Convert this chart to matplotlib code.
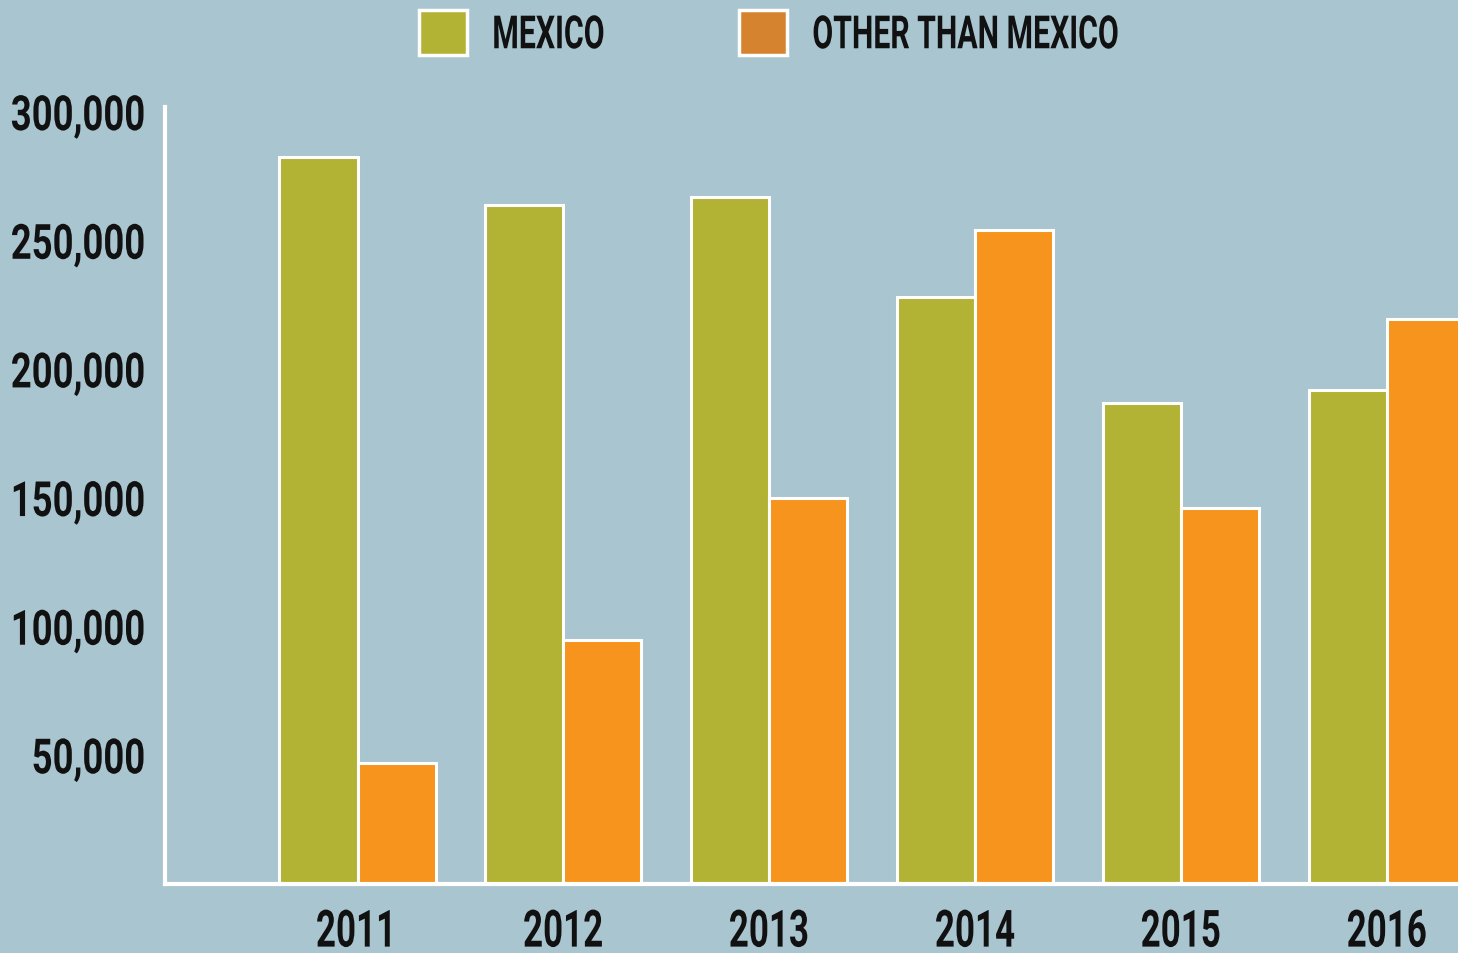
import matplotlib
matplotlib.use("Agg")
import matplotlib.pyplot as plt
from matplotlib.patches import Patch
from matplotlib import patheffects
from matplotlib.transforms import Affine2D
import numpy as np

### Data
years = ["2011", "2012", "2013", "2014", "2015", "2016"]
mexico = [282500, 264000, 267000, 228000, 187000, 192000]
other = [47000, 95000, 150000, 254000, 146000, 219500]
yticks = [50000, 100000, 150000, 200000, 250000, 300000]
series_labels = ["MEXICO", "OTHER THAN MEXICO"]

### Colours
bg = "#a9c5d0"
green = "#b2b235"
orange = "#f7941d"
orange_legend = "#d6832f"
ink = "#111111"

plt.rcParams["font.family"] = ["Roboto", "DejaVu Sans"]
plt.rcParams["font.weight"] = "bold"


# no condensed font installed -> squeeze glyphs horizontally
class Squeeze(patheffects.AbstractPathEffect):
    def __init__(self, sx=0.7, anchor="center"):
        super().__init__()
        self.sx = sx
        self.anchor = anchor

    def draw_path(self, renderer, gc, tpath, affine, rgbFace=None):
        v = tpath.vertices
        if len(v) == 0:
            return
        lo, hi = v[:, 0].min(), v[:, 0].max()
        x0 = {"left": lo, "center": (lo + hi) / 2, "right": hi}[self.anchor]
        t = Affine2D().translate(-x0, 0).scale(self.sx, 1).translate(x0, 0)
        renderer.draw_path(gc, tpath, t + affine, rgbFace)


fig = plt.figure(figsize=(14.58, 9.54), dpi=100, facecolor=bg)
ax = fig.add_axes([165 / 1458, 1 - 885 / 954, 1 - 165 / 1458, 777 / 954])
ax.set_facecolor(bg)

x = np.arange(len(years))
w = 0.379
ax.bar(x - w / 2, mexico, w, color=green, edgecolor="white", linewidth=2.2)
ax.bar(x + w / 2, other, w, color=orange, edgecolor="white", linewidth=2.2)

ax.set_xlim(-0.935, 5.345)
ax.set_ylim(0, 302000)

for s in ["top", "right"]:
    ax.spines[s].set_visible(False)
for s in ["left", "bottom"]:
    ax.spines[s].set_color("white")
    ax.spines[s].set_linewidth(3)

ax.set_yticks(yticks)
ax.set_yticklabels([f"{v:,}" for v in yticks])
ax.set_xticks(x)
ax.set_xticklabels(years)
ax.tick_params(axis="y", length=0, pad=14, labelsize=35, labelcolor=ink)
ax.tick_params(axis="x", length=0, pad=17, labelsize=37, labelcolor=ink)
for lab in ax.get_yticklabels():
    lab.set_fontweight("bold")
    lab.set_path_effects([Squeeze(0.75, "right")])
for lab in ax.get_xticklabels():
    lab.set_fontweight("bold")
    lab.set_path_effects([Squeeze(0.68, "center")])

# two legend entries placed separately, like the reference
legend_colors = [green, orange_legend]
legend_x = [419 / 1458, 739 / 1458]
for lbl, col, lx in zip(series_labels, legend_colors, legend_x):
    leg = fig.legend([Patch(facecolor=col, edgecolor="white", linewidth=2.5)], [lbl],
                     loc="upper left", bbox_to_anchor=(lx, 1 - 11 / 954), frameon=False,
                     fontsize=33, handlelength=1.05, handleheight=1.15,
                     handletextpad=0.55, borderpad=0, borderaxespad=0)
    for t in leg.get_texts():
        t.set_color(ink)
        t.set_fontweight("bold")
        t.set_path_effects([Squeeze(0.66, "left")])

fig.savefig("out.png", dpi=100, facecolor=bg)
